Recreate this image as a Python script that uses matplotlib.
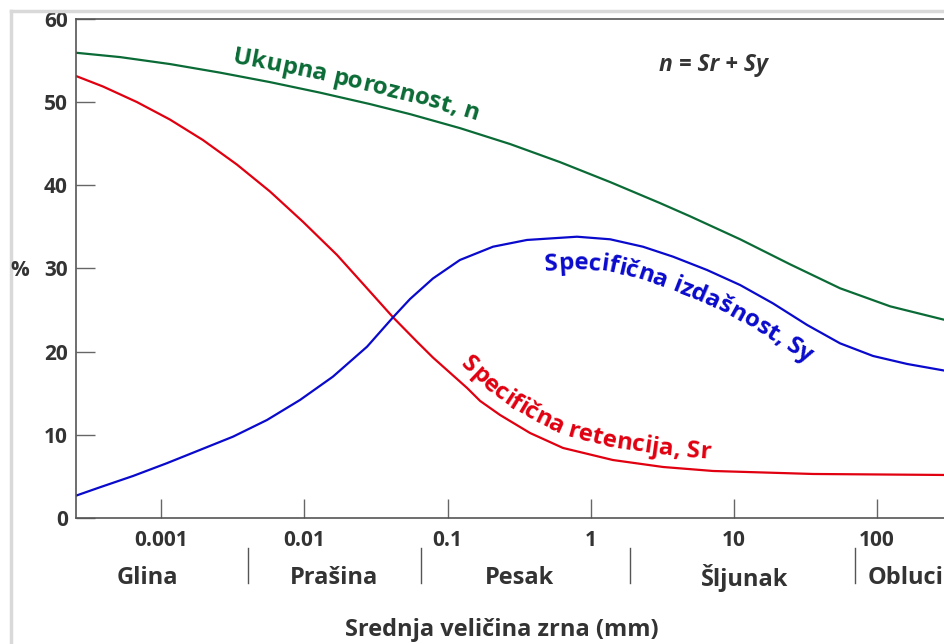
import matplotlib
matplotlib.use("Agg")
import numpy as np
import matplotlib.pyplot as plt
from matplotlib.lines import Line2D
from matplotlib.transforms import IdentityTransform
from matplotlib.font_manager import FontProperties

plt.rcParams['font.family'] = ['Open Sans', 'DejaVu Sans']

# grain size (mm) and percentages
n_size = [0.00025, 0.000514, 0.00115, 0.00257, 0.00574, 0.0128, 0.0287,
          0.0547, 0.122, 0.274, 0.611, 1.37, 3.06, 4.95, 11.1, 24.8, 55.4,
          124, 300]
n_pct = [55.95, 55.42, 54.58, 53.55, 52.41, 51.15, 49.77, 48.56, 46.88,
         44.96, 42.79, 40.39, 37.86, 36.28, 33.51, 30.50, 27.62, 25.45, 23.81]

sr_size = [0.00025, 0.000391, 0.000675, 0.00115, 0.00195, 0.00337, 0.00574,
           0.00977, 0.0169, 0.0257, 0.0416, 0.0612, 0.0791, 0.137, 0.169,
           0.233, 0.377, 0.641, 1.43, 3.21, 7.17, 35.9, 300]
sr_pct = [53.18, 51.88, 50.01, 47.90, 45.45, 42.50, 39.26, 35.61, 31.62,
          28.14, 24.13, 21.19, 19.29, 15.63, 14.07, 12.38, 10.22, 8.42, 6.97,
          6.13, 5.65, 5.29, 5.17]

sy_size = [0.00025, 0.000372, 0.000634, 0.00109, 0.00186, 0.00317, 0.00547,
           0.00931, 0.0158, 0.0274, 0.0416, 0.0547, 0.0791, 0.122, 0.208,
           0.359, 0.804, 1.37, 2.32, 3.77, 6.51, 11.1, 18.8, 32.6, 55.4, 94.2,
           163, 300]
sy_pct = [2.65, 3.69, 5.05, 6.58, 8.18, 9.78, 11.78, 14.19, 16.99, 20.60,
          24.13, 26.33, 28.80, 31.02, 32.62, 33.43, 33.82, 33.51, 32.62,
          31.42, 29.82, 28.01, 25.81, 23.21, 21.00, 19.48, 18.52, 17.71]

tick_vals = [0.001, 0.01, 0.1, 1, 10, 100]
tick_labels = ['0.001', '0.01', '0.1', '1', '10', '100']
y_ticks = [0, 10, 20, 30, 40, 50, 60]

classes = ['Glina', 'Prašina', 'Pesak', 'Šljunak', 'Obluci']
class_pos = [0.0008, 0.016, 0.32, 12, 160]
class_bounds = [0.004, 0.065, 1.9, 70]

green = '#0b6b36'
red = '#e00010'
blue = '#0a0acc'
text_col = '#333333'
families = ['Open Sans', 'DejaVu Sans']

fig = plt.figure(figsize=(9.45, 6.44), dpi=100)
ax = fig.add_axes([0.0804, 0.1957, 0.9196, 0.7748])

ax.plot(n_size, n_pct, color=green, lw=1.6)
ax.plot(sr_size, sr_pct, color=red, lw=1.6)
ax.plot(sy_size, sy_pct, color=blue, lw=1.6)

ax.set_xscale('log')
ax.set_xlim(10 ** -3.597, 10 ** 2.477)
ax.set_ylim(0, 60)

ax.set_xticks(tick_vals)
ax.set_xticklabels(tick_labels)
ax.minorticks_off()
ax.set_yticks(y_ticks)

ax.tick_params(axis='both', direction='in', length=13.5, width=1.0,
               color='#666666', labelsize=15, labelcolor=text_col)
ax.tick_params(axis='x', pad=9)
ax.tick_params(axis='y', pad=6)
for lab in ax.get_xticklabels() + ax.get_yticklabels():
    lab.set_fontweight('bold')

ax.spines['right'].set_visible(False)
for s in ['left', 'bottom', 'top']:
    ax.spines[s].set_color('#555555')
    ax.spines[s].set_linewidth(1.2)

# grain classes under the axis
trans = ax.get_xaxis_transform()
for name, x in zip(classes, class_pos):
    ax.text(x, -0.12, name, transform=trans, ha='center', va='center',
            fontsize=17, fontweight='bold', color=text_col, clip_on=False)
for b in class_bounds:
    ax.plot([b, b], [-0.06, -0.13], transform=trans, color='#555555',
            lw=1.0, clip_on=False)

ax.text(0.49, -0.224, 'Srednja veličina zrna (mm)', transform=ax.transAxes,
        ha='center', va='center', fontsize=17, fontweight='bold',
        color=text_col)
fig.text(20 / 945, 1 - 270 / 644, '%', ha='center', va='center',
         fontsize=15, fontweight='bold', color=text_col)

ax.text(7.2, 54.5, 'n = Sr + Sy', ha='center', va='center', fontsize=16.5,
        fontweight='bold', fontstyle='italic', color=text_col)


# curve labels, letter by letter along a line parallel to the curve
renderer = fig.canvas.get_renderer()


def label_along(xs, ys, text, x_start, offset, size, color):
    prop = FontProperties(family=families, weight='bold', size=size)

    def width(s):
        return renderer.get_text_width_height_descent(s, prop, ismath=False)[0]

    pts = ax.transData.transform(np.column_stack([xs, ys]))
    arc = np.concatenate([[0], np.cumsum(np.hypot(*np.diff(pts, axis=0).T))])
    tx = np.gradient(pts[:, 0], arc)
    ty = np.gradient(pts[:, 1], arc)
    tn = np.hypot(tx, ty)
    path = pts + offset * np.column_stack([-ty / tn, tx / tn])
    parc = np.concatenate([[0], np.cumsum(np.hypot(*np.diff(path, axis=0).T))])

    x0 = ax.transData.transform((x_start, 1))[0]
    s0 = np.interp(x0, path[:, 0], parc)
    for i, ch in enumerate(text):
        if ch == ' ':
            continue
        c = s0 + width(text[:i + 1]) - width(ch) / 2
        px = np.interp(c, parc, path[:, 0])
        py = np.interp(c, parc, path[:, 1])
        dx = np.interp(c + 8, parc, path[:, 0]) - np.interp(c - 8, parc, path[:, 0])
        dy = np.interp(c + 8, parc, path[:, 1]) - np.interp(c - 8, parc, path[:, 1])
        fig.text(px, py, ch, transform=IdentityTransform(),
                 rotation=np.degrees(np.arctan2(dy, dx)),
                 rotation_mode='anchor', ha='center', va='baseline',
                 fontproperties=prop, color=color)


label_along(n_size, n_pct, 'Ukupna poroznost, n', 0.0031, 12, 17.5, green)
label_along(sy_size, sy_pct, 'Specifična izdašnost, Sy', 0.48, -32, 17.5, blue)
label_along(sr_size, sr_pct, 'Specifična retencija, Sr', 0.122, 12, 17.5, red)

# light frame around the figure
fig.add_artist(Line2D([11 / 945, 11 / 945], [0, 1 - 11 / 644],
                      color='#d9d9d9', lw=2.5))
fig.add_artist(Line2D([11 / 945, 1], [1 - 11 / 644, 1 - 11 / 644],
                      color='#d9d9d9', lw=2.5))

fig.savefig('out.png', dpi=100)
